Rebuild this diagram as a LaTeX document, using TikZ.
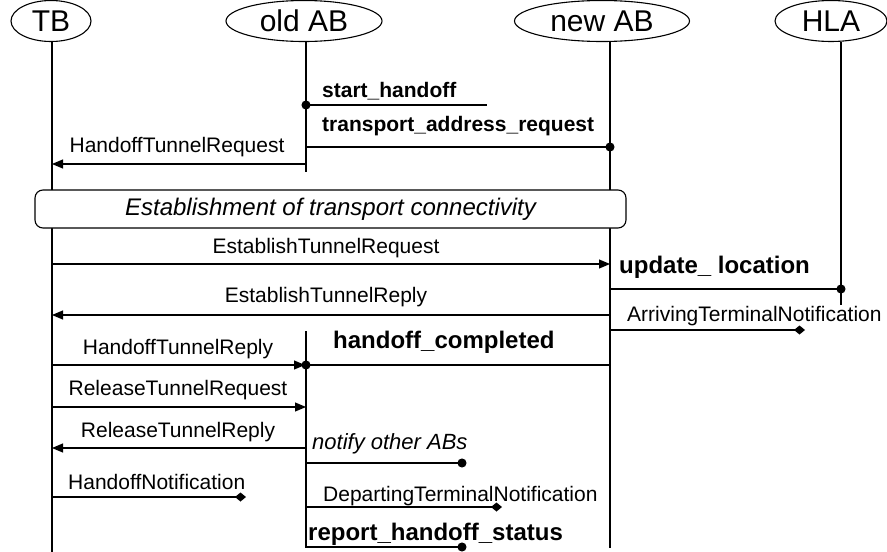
\documentclass[tikz,border=0pt]{standalone}
\usepackage{fontspec}
\setmainfont{Liberation Sans}
\usetikzlibrary{arrows.meta,shapes.geometric}
\begin{document}
\begin{tikzpicture}[x=1pt,y=-1pt,
  lane/.style={line width=1.1pt},
  msg/.style={line width=1.1pt},
  tri/.style={-{Triangle[length=11pt,width=9pt]}},
  dotend/.style={-{Circle[length=9pt]},shorten >=-4.5pt},
  dotstart/.style={{Circle[length=9pt]}-,shorten <=-4.5pt},
  dia/.style={-{Diamond[length=11pt,width=9pt]}},
  head/.style={ellipse, draw, line width=1.1pt, inner sep=0pt, minimum height=41pt, font=\fontsize{30}{32}\selectfont},
  lbl/.style={inner sep=0pt, font=\fontsize{21}{24}\selectfont},
  blbl/.style={inner sep=0pt, font=\fontsize{21}{24}\selectfont\bfseries},
  Blbl/.style={inner sep=0pt, font=\fontsize{24}{28}\selectfont\bfseries},
  ilbl/.style={inner sep=0pt, font=\fontsize{22}{26}\selectfont\itshape},
  phase/.style={draw, fill=white, rounded corners=8pt, line width=1.1pt, inner sep=0pt, font=\fontsize{24}{28}\selectfont\itshape},
]
\useasboundingbox (0,0) rectangle (887,552);

% heads
\node[head, minimum width=80pt]  (tb)  at (51,21)  {TB};
\node[head, minimum width=156pt] (oab) at (304,21) {old AB};
\node[head, minimum width=175pt] (nab) at (602,21) {new AB};
\node[head, minimum width=112pt] (hla) at (831,21) {HLA};

% lifeline coordinates
\coordinate (tbT) at (52,42);   \coordinate (tbB) at (52,552);
\coordinate (oaT) at (306,42);  \coordinate (oaM) at (306,172);
\coordinate (oaR) at (306,331); \coordinate (oaB) at (306,548);
\coordinate (naT) at (610,42);  \coordinate (naB) at (610,548);
\coordinate (hlT) at (841,42);  \coordinate (hlB) at (841,305);

\draw[lane] (tbT) -- (tbB);
\draw[lane] (oaT) -- (oaM);
\draw[lane] (oaR) -- (oaB);
\draw[lane] (naT) -- (naB);
\draw[lane] (hlT) -- (hlB);

% phase box
\node[phase, minimum width=591pt, minimum height=38pt] (box) at (330.5,209) {Establishment of transport connectivity};

% message coordinates
\coordinate (o1) at (306,105);  \coordinate (e1) at (487,105);
\coordinate (o2) at (306,147);  \coordinate (n2) at (610,147);
\coordinate (o3) at (306,164);  \coordinate (t3) at (52,164);
\coordinate (t4) at (52,264);   \coordinate (n4) at (610,264);
\coordinate (n5) at (610,289);  \coordinate (h5) at (841,289);
\coordinate (n6) at (610,315);  \coordinate (t6) at (52,315);
\coordinate (n7) at (610,330);  \coordinate (e7) at (805,330);
\coordinate (n8) at (610,365);  \coordinate (o8) at (306,365);
\coordinate (t9) at (52,365);   \coordinate (o9) at (305,365);
\coordinate (t10) at (52,407);  \coordinate (o10) at (306,407);
\coordinate (o11) at (306,448); \coordinate (t11) at (52,448);
\coordinate (o12) at (306,463); \coordinate (e12) at (462,463);
\coordinate (t13) at (52,497);  \coordinate (e13) at (246,497);
\coordinate (o14) at (306,507); \coordinate (e14) at (502,507);
\coordinate (o15) at (306,547); \coordinate (e15) at (462,547);

% messages
\draw[msg, dotstart] (o1) -- (e1);
\draw[msg, dotend] (o2) -- (n2);
\draw[msg, tri] (o3) -- (t3);
\draw[msg, tri] (t4) -- (n4);
\draw[msg, dotend] (n5) -- (h5);
\draw[msg, tri] (n6) -- (t6);
\draw[msg, dia] (n7) -- (e7);
\draw[msg, tri] (t9) -- (o9);
\draw[msg, dotend] (n8) -- (o8);
\draw[msg, tri] (t10) -- (o10);
\draw[msg, tri] (o11) -- (t11);
\draw[msg, dotend] (o12) -- (e12);
\draw[msg, dia] (t13) -- (e13);
\draw[msg, dia] (o14) -- (e14);
\draw[msg, dotend] (o15) -- (e15);

% labels
\node[blbl, anchor=base west] (l1) at (322,97) {start\_handoff};
\node[blbl, anchor=base west] (l2) at (322,131) {transport\_address\_request};
\node[lbl, anchor=base] (l3) at (177,152) {HandoffTunnelRequest};
\node[lbl, anchor=base] (l4) at (326,253) {EstablishTunnelRequest};
\node[Blbl, anchor=base west] (l5) at (619,273) {update\_ location};
\node[lbl, anchor=base] (l6) at (326,302) {EstablishTunnelReply};
\node[lbl, anchor=base west] (l7) at (627,321) {ArrivingTerminalNotification};
\node[Blbl, anchor=base west] (l8) at (333,348) {handoff\_completed};
\node[lbl, anchor=base] (l9) at (178,354) {HandoffTunnelReply};
\node[lbl, anchor=base] (l10) at (178,395) {ReleaseTunnelRequest};
\node[lbl, anchor=base] (l11) at (178,437) {ReleaseTunnelReply};
\node[ilbl, anchor=base west] (l12) at (312,449) {notify other ABs};
\node[lbl, anchor=base west] (l13) at (68,489) {HandoffNotification};
\node[lbl, anchor=base west] (l14) at (323,501) {DepartingTerminalNotification};
\node[Blbl, anchor=base west] (l15) at (308,540) {report\_handoff\_status};
\end{tikzpicture}
\end{document}
